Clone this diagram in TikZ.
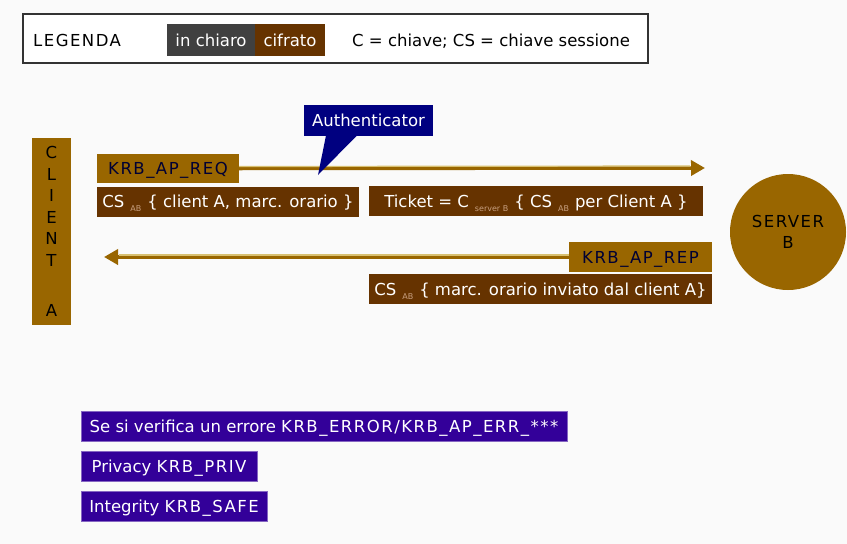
\documentclass[tikz,border=0pt]{standalone}
\usepackage{fontspec}
\setmainfont{DejaVu Sans}
\newfontfamily\widecaps[LetterSpace=9]{DejaVu Sans}
\usetikzlibrary{arrows.meta}

\definecolor{bgcol}{HTML}{FAFAFA}
\definecolor{gold}{HTML}{996600}
\definecolor{goldlight}{HTML}{D8C070}
\definecolor{darkbrown}{HTML}{663300}
\definecolor{plaingray}{HTML}{404040}
\definecolor{errpurple}{HTML}{330099}
\definecolor{calloutnavy}{HTML}{000080}
\definecolor{inktext}{HTML}{000033}
\definecolor{subcol}{HTML}{C8A080}

% small lowered index, as in CS_AB
\newcommand{\keyidx}[1]{\hspace{6pt}\raisebox{-4pt}{\fontsize{8}{8}\selectfont\color{subcol}#1}\hspace{6pt}}
% message names set a little wider
\newcommand{\msgname}[1]{{\widecaps #1}}

\tikzset{
  txt/.style={font=\fontsize{16.5}{19}\selectfont, inner sep=0pt, text height=13, text depth=1},
  plainbox/.style={txt, fill=gold, text=inktext, minimum height=29},
  cipherbox/.style={txt, fill=darkbrown, text=white, minimum height=30},
  errbox/.style={txt, fill=errpurple, text=white, minimum height=30, draw=errpurple!60, line width=0.6},
  msgarrow/.style={draw=gold, line width=3.5, -{Triangle[length=14,width=15]}},
  msgglow/.style={draw=goldlight, line width=1.2},
}

\begin{document}
\begin{tikzpicture}[x=1pt,y=-1pt]
\useasboundingbox (0,0) rectangle (847,544);
\fill[bgcol] (0,0) rectangle (847,544);

% legend
\draw[draw=black!80, line width=2, fill=white] (23,14) rectangle (648,63);
\node[txt, anchor=west, text=black] (legtitle) at (33,40) {\msgname{LEGENDA}};
\node[txt, fill=plaingray, text=white, minimum width=88, minimum height=32] (inchiaro) at (211,40) {in chiaro};
\node[txt, fill=darkbrown, text=white, minimum width=70, minimum height=32] (cifrato) at (290,40) {cifrato};
\node[txt, anchor=west, text=black] (legkeys) at (352,40) {C = chiave; CS = chiave sessione};

% endpoints
\node[inner sep=0pt, fill=gold, text=black, minimum width=39, minimum height=187, align=center,
      font=\fontsize{16.5}{21.5}\selectfont] (client) at (51.5,231.5)
      {C\\L\\I\\E\\N\\T\\[29pt]A};
\node[inner sep=0pt, circle, fill=gold, text=black, minimum size=116, align=center,
      font=\fontsize{16.5}{21}\selectfont] (server) at (788,232) {\msgname{SERVER}\\B};

% request
\node[plainbox, minimum width=142] (req) at (168,168.5) {\msgname{KRB\_AP\_REQ}};
\node[cipherbox, minimum width=262] (cs1) at (228,201.5)
      {CS\keyidx{AB}\{ client A, marc. orario \}};
\node[cipherbox, minimum width=334] (ticket) at (536,201)
      {Ticket = C\keyidx{server B}\{ CS\keyidx{AB}per Client A \}};
\coordinate (reqend) at (705,168);
\draw[msgarrow] (req.east) -- (reqend);
\draw[msgglow] ([yshift=2]req.east) -- ([xshift=-15,yshift=2]reqend);

% authenticator callout
\node[txt, fill=calloutnavy, text=white, minimum width=129, minimum height=31] (auth) at (368.5,120.5) {Authenticator};
\coordinate (authtip) at (318,175);
\fill[calloutnavy] (326,135.5) -- (authtip) -- (357,135.5) -- cycle;

% reply
\node[plainbox, minimum width=143, minimum height=30] (rep) at (640.5,257) {\msgname{KRB\_AP\_REP}};
\node[cipherbox, minimum width=343] (cs2) at (540.5,289)
      {CS\keyidx{AB}\{ marc. orario inviato dal client A\}};
\coordinate (repend) at (104,257);
\draw[msgarrow] (rep.west) -- (repend);
\draw[msgglow] ([yshift=2]rep.west) -- ([xshift=15,yshift=2]repend);

% other messages
\node[errbox, minimum width=486] (err) at (324,426) {Se si verifica un errore \msgname{KRB\_ERROR/KRB\_AP\_ERR\_***}};
\node[errbox, minimum width=176] (priv) at (169,466) {Privacy \msgname{KRB\_PRIV}};
\node[errbox, minimum width=186] (safe) at (174,506) {Integrity \msgname{KRB\_SAFE}};
\end{tikzpicture}
\end{document}
